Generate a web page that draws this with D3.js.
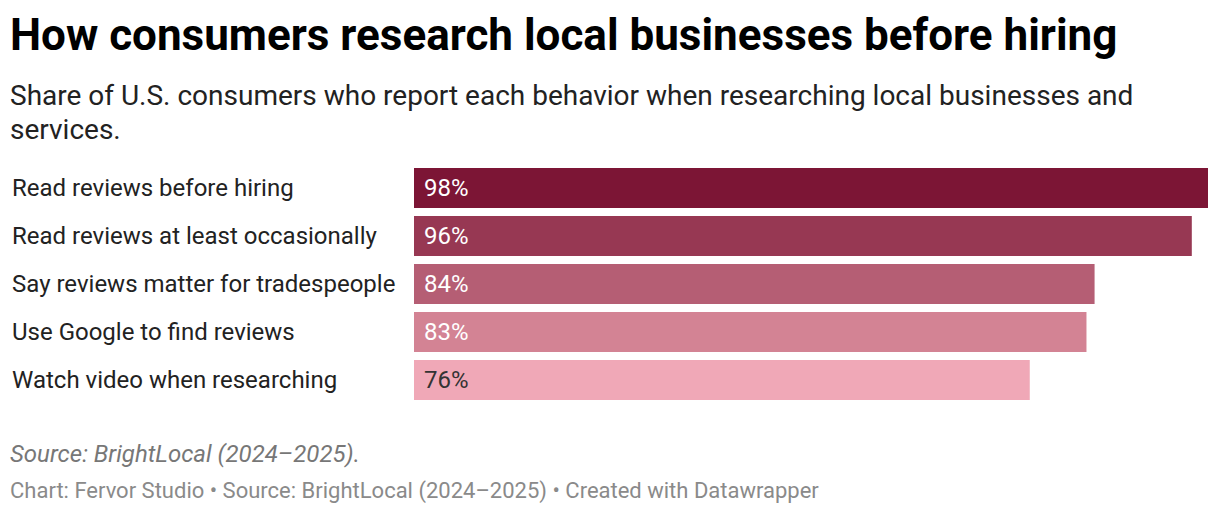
<!DOCTYPE html>
<html>
<head>
<meta charset="utf-8">
<script src="https://cdn.jsdelivr.net/npm/d3@7"></script>
<style>
  body { margin: 0; background: #fff; }
  svg { display: block; font-family: Roboto, sans-serif; }
</style>
</head>
<body>
<div id="chart"></div>
<script>
const categories = [
    "Read reviews before hiring",
    "Read reviews at least occasionally",
    "Say reviews matter for tradespeople",
    "Use Google to find reviews",
    "Watch video when researching"
];
const values = [98, 96, 84, 83, 76];
const barColors = ["#7c1535", "#973853", "#b55e74", "#d38394", "#f0a8b7"];
const labelColors = ["#fff", "#fff", "#fff", "#fff", "#333"];

function drawChart() {
    const width = 1220;
    const height = 514;

    const svg = d3.select('#chart')
        .append('svg')
        .attr('width', width)
        .attr('height', height);

    // header
    svg.append("text")
        .attr("x", 10)
        .attr("y", 50)
        .style("font-size", "44px")
        .style("font-weight", "700")
        .style("fill", "#000")
        .text("How consumers research local businesses before hiring");

    const sub = svg.append("text")
        .style("font-size", "28px")
        .style("fill", "#222");
    sub.append("tspan").attr("x", 10).attr("y", 105)
        .text("Share of U.S. consumers who report each behavior when researching local businesses and");
    sub.append("tspan").attr("x", 10).attr("y", 139)
        .text("services.");

    const x = d3.scaleLinear()
        .domain([0, 98])
        .range([414, 1208]);

    const y = d3.scaleBand()
        .domain(categories)
        .range([164, 404])
        .paddingInner(1 / 6)
        .paddingOuter(1 / 12);

    const rows = svg.selectAll(".row")
        .data(categories)
        .enter().append("g")
        .attr("class", "row");

    rows.append("text")
        .attr("x", 12)
        .attr("y", d => y(d) + y.bandwidth() / 2)
        .attr("dy", "0.35em")
        .style("font-size", "24px")
        .style("fill", "#222")
        .text(d => d);

    rows.append("rect")
        .attr("x", x(0))
        .attr("y", d => y(d))
        .attr("width", (d, i) => x(values[i]) - x(0))
        .attr("height", y.bandwidth())
        .style("fill", (d, i) => barColors[i]);

    rows.append("text")
        .attr("x", x(0) + 10)
        .attr("y", d => y(d) + y.bandwidth() / 2)
        .attr("dy", "0.35em")
        .style("font-size", "24px")
        .style("fill", (d, i) => labelColors[i])
        .text((d, i) => values[i] + "%");

    // footer
    svg.append("text")
        .attr("x", 10)
        .attr("y", 462)
        .style("font-size", "24px")
        .style("font-style", "italic")
        .style("fill", "#777")
        .text("Source: BrightLocal (2024\u20132025).");

    svg.append("text")
        .attr("x", 10)
        .attr("y", 498)
        .style("font-size", "22px")
        .style("fill", "#8a8a8a")
        .text("Chart: Fervor Studio \u2022 Source: BrightLocal (2024\u20132025) \u2022 Created with Datawrapper");
}

document.addEventListener('DOMContentLoaded', drawChart);
</script>
</body>
</html>
